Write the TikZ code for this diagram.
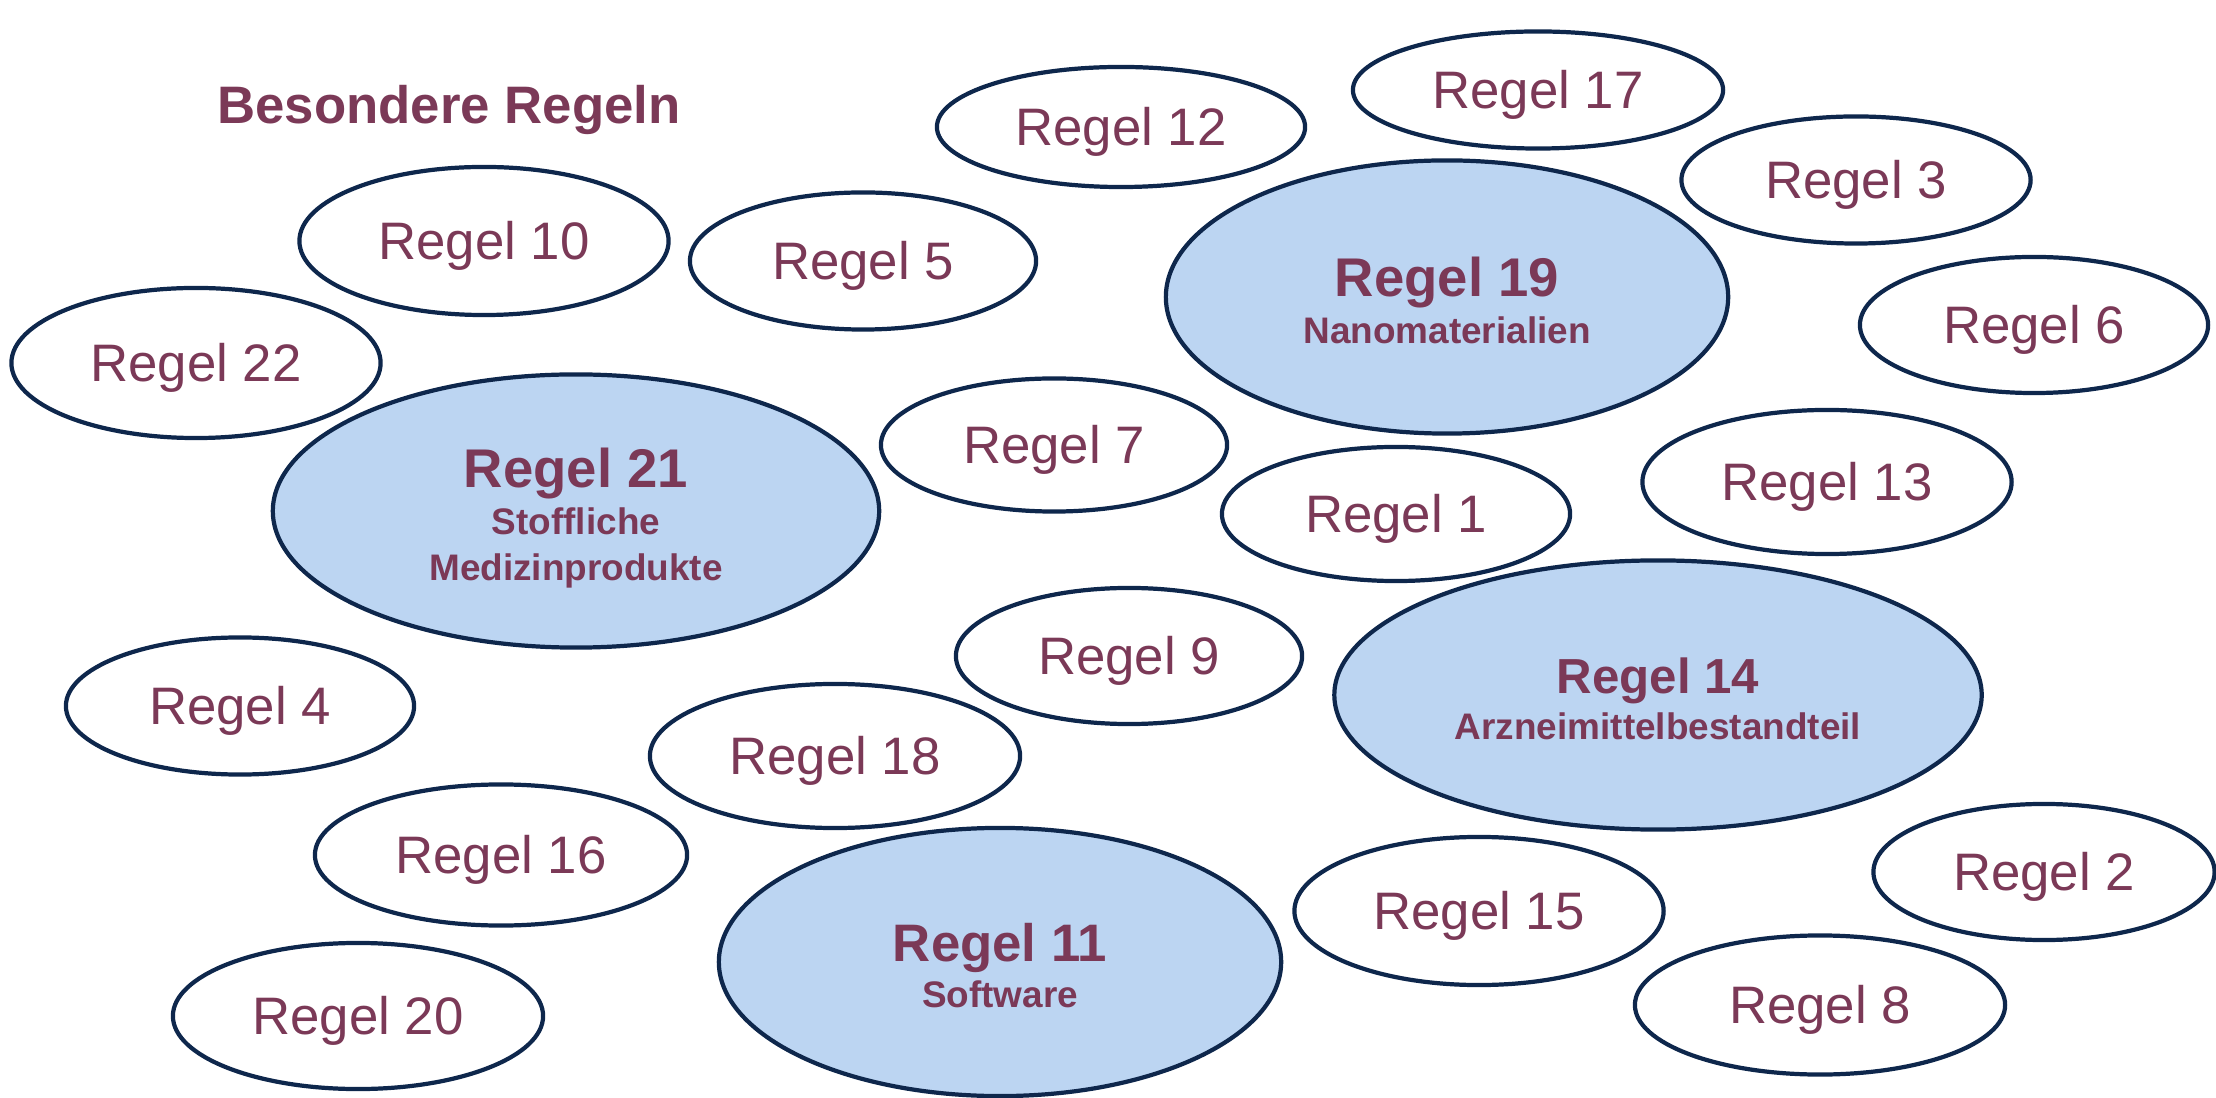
\documentclass[tikz,border=0pt]{standalone}
\usepackage{fontspec}
\setmainfont{Liberation Sans}
\usepackage{tikz}
\usetikzlibrary{shapes.geometric}
\definecolor{rulepurple}{RGB}{123,57,87}
\definecolor{rulenavy}{RGB}{14,39,76}
\definecolor{ruleblue}{RGB}{188,213,242}
\tikzset{
    rule/.style={draw=rulenavy, line width=1.2pt, ellipse, inner sep=0pt, fill=white,
        text=rulepurple, font=\fontsize{15}{18}\selectfont, text height=10.75pt, text depth=0pt},
    bigrule/.style={draw=rulenavy, line width=1.2pt, ellipse, inner sep=0pt, fill=ruleblue,
        text=rulepurple, align=center, text depth=0pt,
        font=\fontsize{10.5}{13.1}\selectfont\bfseries},
    heading/.style={text=rulepurple, font=\fontsize{15}{18}\selectfont\bfseries}
}
\newcommand{\rulehead}[2][15.5]{{\fontsize{#1}{13.1}\selectfont #2}}

\begin{document}
\begin{tikzpicture}[x=0.01cm, y=-0.01cm]
    \useasboundingbox (0,0) rectangle (2216,1098);
    \node[heading] (title) at (449,110) {Besondere Regeln};
    % plain rules
    \node[rule, minimum width=3.68cm, minimum height=1.20cm] (r12) at (1121,127) {Regel 12};
    \node[rule, minimum width=3.70cm, minimum height=1.17cm] (r17) at (1538,90) {Regel 17};
    \node[rule, minimum width=3.49cm, minimum height=1.27cm] (r3) at (1856,180) {Regel 3};
    \node[rule, minimum width=3.69cm, minimum height=1.48cm] (r10) at (484,241) {Regel 10};
    \node[rule, minimum width=3.46cm, minimum height=1.37cm] (r5) at (863,261) {Regel 5};
    \node[rule, minimum width=3.48cm, minimum height=1.36cm] (r6) at (2034,325) {Regel 6};
    \node[rule, minimum width=3.69cm, minimum height=1.50cm] (r22) at (196,363) {Regel 22};
    \node[rule, minimum width=3.46cm, minimum height=1.33cm] (r7) at (1054,445) {Regel 7};
    \node[rule, minimum width=3.48cm, minimum height=1.34cm] (r1) at (1396,514) {Regel 1};
    \node[rule, minimum width=3.69cm, minimum height=1.44cm] (r13) at (1827,482) {Regel 13};
    \node[rule, minimum width=3.46cm, minimum height=1.36cm] (r9) at (1129,656) {Regel 9};
    \node[rule, minimum width=3.48cm, minimum height=1.37cm] (r4) at (240,706) {Regel 4};
    \node[rule, minimum width=3.70cm, minimum height=1.44cm] (r18) at (835,756) {Regel 18};
    \node[rule, minimum width=3.72cm, minimum height=1.41cm] (r16) at (501,855) {Regel 16};
    \node[rule, minimum width=3.69cm, minimum height=1.48cm] (r15) at (1479,911) {Regel 15};
    \node[rule, minimum width=3.41cm, minimum height=1.36cm] (r2) at (2044,872) {Regel 2};
    \node[rule, minimum width=3.70cm, minimum height=1.39cm] (r8) at (1820,1005) {Regel 8};
    \node[rule, minimum width=3.70cm, minimum height=1.46cm] (r20) at (358,1016) {Regel 20};
    % special rules
    \node[bigrule, minimum width=5.62cm, minimum height=2.73cm, text height=26.2pt] (r19) at (1447,297) {\rulehead{Regel 19}\\Nanomaterialien};
    \node[bigrule, minimum width=6.06cm, minimum height=2.73cm, text height=39.3pt] (r21) at (576,511) {\rulehead{Regel 21}\\Stoffliche\\Medizinprodukte};
    \node[bigrule, minimum width=6.47cm, minimum height=2.69cm, text height=25.1pt] (r14) at (1658,695) {\rulehead[14]{Regel 14}\\Arzneimittelbestandteil};
    \node[bigrule, minimum width=5.62cm, minimum height=2.68cm, text height=25.8pt] (r11) at (1000,962) {\rulehead[15]{Regel 11}\\Software};
\end{tikzpicture}
\end{document}
